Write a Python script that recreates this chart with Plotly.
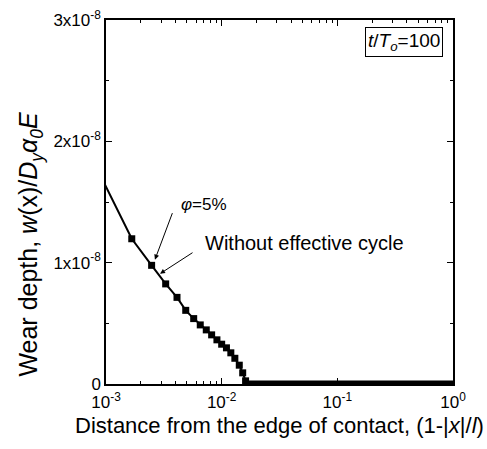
import plotly.graph_objects as go

# Data (phi = 5 %, t/To = 100)
x_vals = [0.000833, 0.00167, 0.00248, 0.00328, 0.00411, 0.00489, 0.00573, 0.00653,
          0.00736, 0.00819, 0.0091, 0.0100, 0.0110, 0.0120, 0.0130, 0.0142,
          0.0152, 0.0161]
y_vals = [1.778e-8, 1.197e-8, 0.978e-8, 0.825e-8, 0.714e-8, 0.607e-8, 0.539e-8, 0.487e-8,
          0.446e-8, 0.405e-8, 0.364e-8, 0.328e-8, 0.298e-8, 0.257e-8, 0.212e-8, 0.155e-8,
          0.092e-8, 0.026e-8]
# zero-wear region (dense markers along zero)
zero_x = [0.0167, 1.0]
zero_y = [0.0, 0.0]

x_tickvals = [1e-3, 1e-2, 1e-1, 1e0]
x_ticktext = ["10<sup>-3</sup>", "10<sup>-2</sup>", "10<sup>-1</sup>", "10<sup>0</sup>"]
y_tickvals = [0, 1e-8, 2e-8, 3e-8]
y_ticktext = ["0", "1x10<sup>-8</sup>", "2x10<sup>-8</sup>", "3x10<sup>-8</sup>"]

FONT = "Liberation Sans, Arial, sans-serif"

fig = go.Figure()
fig.add_trace(go.Scatter(
    x=x_vals, y=y_vals, mode="lines+markers",
    line=dict(color="black", width=2),
    marker=dict(symbol="square", size=7, color="black"),
    showlegend=False,
))
fig.add_trace(go.Scatter(
    x=[x_vals[-1]] + zero_x, y=[y_vals[-1]] + zero_y, mode="lines",
    line=dict(color="black", width=2), showlegend=False,
))
fig.add_trace(go.Scatter(
    x=zero_x, y=zero_y, mode="lines",
    line=dict(color="black", width=7), showlegend=False,
))

minor_x = [m * 10 ** e for e in (-3, -2, -1) for m in range(2, 10)]

fig.update_layout(
    width=487, height=449,
    margin=dict(l=106, r=34, t=20, b=65),
    paper_bgcolor="white", plot_bgcolor="white",
    font=dict(family=FONT, size=17, color="black"),
    xaxis=dict(
        type="log", range=[-3, 0], automargin=False,
        tickvals=x_tickvals, ticktext=x_ticktext,
        ticks="inside", ticklen=6, tickwidth=1, tickcolor="black",
        ticklabelstandoff=2,
        showline=True, linecolor="black", linewidth=1.5, mirror="ticks",
        showgrid=False, zeroline=False,
        minor=dict(tickvals=minor_x, ticks="inside", ticklen=3, tickcolor="black", showgrid=False),
        tickfont=dict(size=17),
    ),
    yaxis=dict(
        range=[0, 3e-8], automargin=False,
        tickvals=y_tickvals, ticktext=y_ticktext,
        ticks="inside", ticklen=6, tickwidth=1, tickcolor="black",
        showline=True, linecolor="black", linewidth=1.5, mirror="ticks",
        showgrid=False, zeroline=False,
        minor=dict(dtick=0.5e-8, ticks="inside", ticklen=3, tickcolor="black", showgrid=False),
        tickfont=dict(size=17),
    ),
)

# x-axis title
fig.add_annotation(
    xref="paper", yref="paper", x=0.5, y=-0.113, xanchor="center", yanchor="middle",
    showarrow=False,
    text="Distance from the edge of contact, (1-|<i>x</i>|/<i>l</i>)",
    font=dict(size=22),
)

# y-axis title
fig.add_annotation(
    xref="paper", yref="paper", x=-0.219, y=0.383, xanchor="center", yanchor="middle",
    textangle=-90, showarrow=False,
    text="Wear depth, <i>w</i>(x)/<i>D</i><sub><i>y</i></sub><i>α</i><sub><i>0</i></sub><i>E</i>",
    font=dict(size=25),
)

fig.add_annotation(
    xref="paper", yref="paper", x=0.971, y=0.981, xanchor="right", yanchor="top",
    text="<i>t</i>/<i>T</i><sub><i>o</i></sub>=100", showarrow=False,
    bordercolor="black", borderwidth=1, borderpad=2, bgcolor="white",
    font=dict(size=19),
)

fig.add_annotation(
    x=-2.577, y=1.025e-8, xref="x", yref="y",
    ax=18, ay=-48,
    text="", showarrow=True, arrowhead=2, arrowsize=1, arrowwidth=1, arrowcolor="black",
)
fig.add_annotation(
    x=-2.37, y=1.477e-8, xref="x", yref="y", xanchor="left", yanchor="middle",
    text="<i>φ</i>=5%", showarrow=False, font=dict(size=17),
)

fig.add_annotation(
    x=-2.533, y=0.909e-8, xref="x", yref="y",
    text="", showarrow=True, arrowhead=2, arrowsize=1, arrowwidth=1, arrowcolor="black",
    ax=34, ay=-22,
)
fig.add_annotation(
    x=-2.162, y=1.16e-8, xref="x", yref="y", xanchor="left", yanchor="middle",
    text="Without effective cycle", showarrow=False, font=dict(size=20),
)

fig.write_html("out.html")
